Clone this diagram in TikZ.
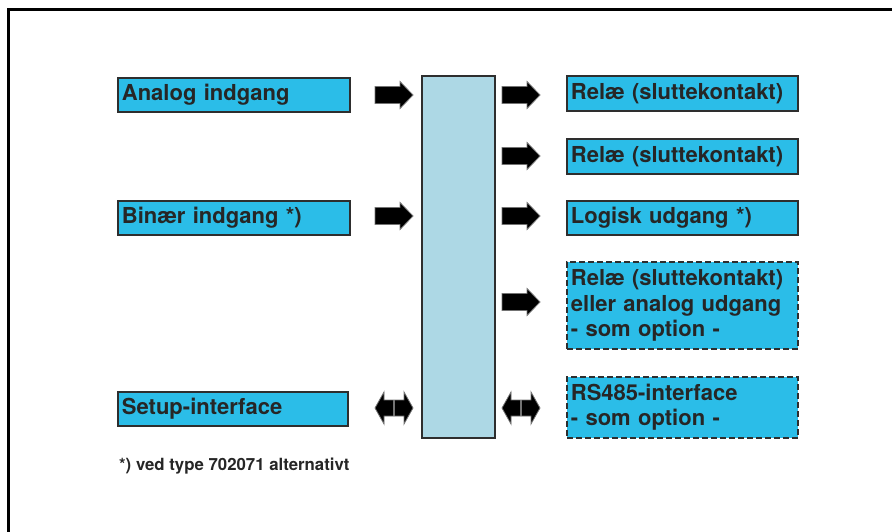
\documentclass[tikz,border=0pt]{standalone}
\usepackage{fontspec}
\setmainfont{TeX Gyre Heros}
\definecolor{cyanbox}{HTML}{2BBDE8}
\definecolor{corefill}{HTML}{ADD8E5}
\definecolor{edge}{HTML}{2E2E2E}
\definecolor{txt}{HTML}{262626}
\begin{document}
\begin{tikzpicture}[x=1pt,y=-1pt,
  cbox/.style={draw=edge,line width=1.8pt,fill=cyanbox,anchor=north west,
    inner xsep=4pt,inner ysep=0pt,align=left,text=txt,
    font=\fontsize{22}{25.5}\selectfont\bfseries},
  dbox/.style={cbox,dashed,dash pattern=on 6pt off 3pt},
  corebox/.style={draw=edge,line width=1.8pt,fill=corefill,anchor=north west,inner sep=0pt},
  fatarrow/.pic={\filldraw[fill=black,draw=black!55,line width=0.8pt]
     (0,-8.5) -- (25,-8.5) -- (25,-13.5) -- (38,0) -- (25,13.5) -- (25,8.5) -- (0,8.5) -- cycle;},
  dblarrow/.pic={\filldraw[fill=black,draw=black!55,line width=0.8pt]
     (0,0) -- (9,-16) -- (9,-8) -- (29,-8) -- (29,-16) -- (38,0) -- (29,16) -- (29,8) -- (9,8) -- (9,16) -- cycle;
     \draw[black!55,line width=1.2pt] (19,-8) -- (19,8);}
]
\useasboundingbox (0,0) rectangle (892,532);
\draw[line width=3pt] (8,540) -- (8,10) -- (900,10);

% core
\node[corebox,minimum width=73pt,minimum height=362pt] (core) at (421,75) {};

% left boxes
\node[cbox,text width=224pt,minimum height=34pt] (ain) at (117,77) {Analog indgang};
\node[cbox,text width=224pt,minimum height=34pt] (bin) at (117,200) {Binær indgang *)};
\node[cbox,text width=222pt,minimum height=34pt] (setup) at (117,391) {Setup-interface};

% right boxes
\node[cbox,text width=223pt,minimum height=35pt] (r1) at (566,75) {Relæ (sluttekontakt)};
\node[cbox,text width=223pt,minimum height=35pt] (r2) at (566,138) {Relæ (sluttekontakt)};
\node[cbox,text width=223pt,minimum height=34pt] (logic) at (566,200) {Logisk udgang *)};
\node[dbox,text width=223pt,minimum height=87pt] (opt) at (566,261) {Relæ (sluttekontakt)\\eller analog udgang\\- som option -};
\node[dbox,text width=223pt,minimum height=61pt] (rs) at (566,376) {RS485-interface\\- som option -};

% arrows
\pic at (375,95) {fatarrow};
\pic at (375,216) {fatarrow};
\pic at (502,95) {fatarrow};
\pic at (502,156) {fatarrow};
\pic at (502,216) {fatarrow};
\pic at (502,302) {fatarrow};
\pic at (375,408) {dblarrow};
\pic at (502,408) {dblarrow};

% footnote
\node[anchor=west,inner sep=0pt,text=txt,font=\fontsize{16.8}{19}\selectfont\bfseries] (note) at (119,466) {*) ved type 702071 alternativt};
\end{tikzpicture}
\end{document}
